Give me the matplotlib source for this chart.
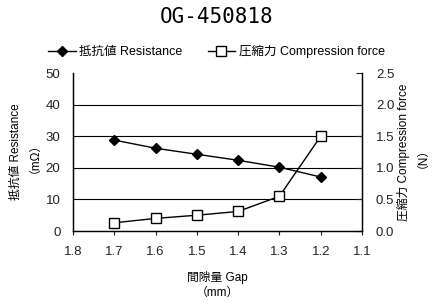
import matplotlib
matplotlib.use("Agg")
import matplotlib.pyplot as plt
from matplotlib.lines import Line2D

plt.rcParams['font.family'] = ['Liberation Sans', 'Noto Sans CJK JP', 'DejaVu Sans']
plt.rcParams['font.size'] = 8

gap = [1.7, 1.6, 1.5, 1.4, 1.3, 1.2]
resistance = [28.8, 26.2, 24.3, 22.4, 20.2, 17.1]
force = [0.13, 0.20, 0.25, 0.31, 0.55, 1.50]

x_ticks = [1.8, 1.7, 1.6, 1.5, 1.4, 1.3, 1.2, 1.1]
left_ticks = [0, 10, 20, 30, 40, 50]
right_ticks = [0.0, 0.5, 1.0, 1.5, 2.0, 2.5]

fig = plt.figure(figsize=(4.33, 3.02), dpi=100)
ax = fig.add_axes([0.1686, 0.235, 0.6674, 0.523])
ax2 = ax.twinx()

ax.plot(gap, resistance, color='black', lw=1, marker='D', ms=5.5,
        mfc='black', mec='black', zorder=3)
ax2.plot(gap, force, color='black', lw=1, marker='s', ms=7.5,
         mfc='white', mec='black', mew=1, zorder=3)

ax.set_xlim(1.8, 1.1)
ax.set_ylim(0, 50)
ax2.set_ylim(0, 2.5)
ax.set_xticks(x_ticks)
ax.set_xticklabels([f"{v:.1f}" for v in x_ticks])
ax.set_yticks(left_ticks)
ax2.set_yticks(right_ticks)
ax2.set_yticklabels([f"{v:.1f}" for v in right_ticks])

for y in left_ticks[1:-1]:
    ax.axhline(y, color='black', lw=0.8, zorder=1)

for a in (ax, ax2):
    a.spines['top'].set_visible(False)
    for s in ('left', 'right', 'bottom'):
        a.spines[s].set_linewidth(0.9)
    a.tick_params(labelsize=9.5, length=3, width=0.8, colors='#222222')

ax.tick_params(axis='y', direction='in', length=0, pad=9)
ax.tick_params(axis='x', direction='out', pad=8)
ax2.tick_params(axis='y', direction='in', length=4, pad=10)

ax.set_ylabel("抵抗値 Resistance\n（mΩ）", fontsize=8.5, linespacing=1.1, labelpad=8)
ax2.set_ylabel("圧縮力 Compression force\n（N）", fontsize=8.5, linespacing=1.1,
               labelpad=2)
ax.set_xlabel("間隙量 Gap\n（mm）", fontsize=8.5, linespacing=1.3, labelpad=9)

fig.text(0.5, 0.943, "OG-450818", ha='center', va='center', fontsize=15,
         family='DejaVu Sans Mono', fontstretch='condensed')

handles = [
    Line2D([], [], color='black', lw=1, marker='D', ms=5.5, mfc='black'),
    Line2D([], [], color='black', lw=1, marker='s', ms=7, mfc='white'),
]
fig.legend(handles, ["抵抗値 Resistance", "圧縮力 Compression force"],
           loc='center', bbox_to_anchor=(0.5, 0.828), ncols=2, frameon=False,
           fontsize=9, handlelength=2.2, columnspacing=2.0, handletextpad=0.3)

fig.savefig("out.png", dpi=100)
